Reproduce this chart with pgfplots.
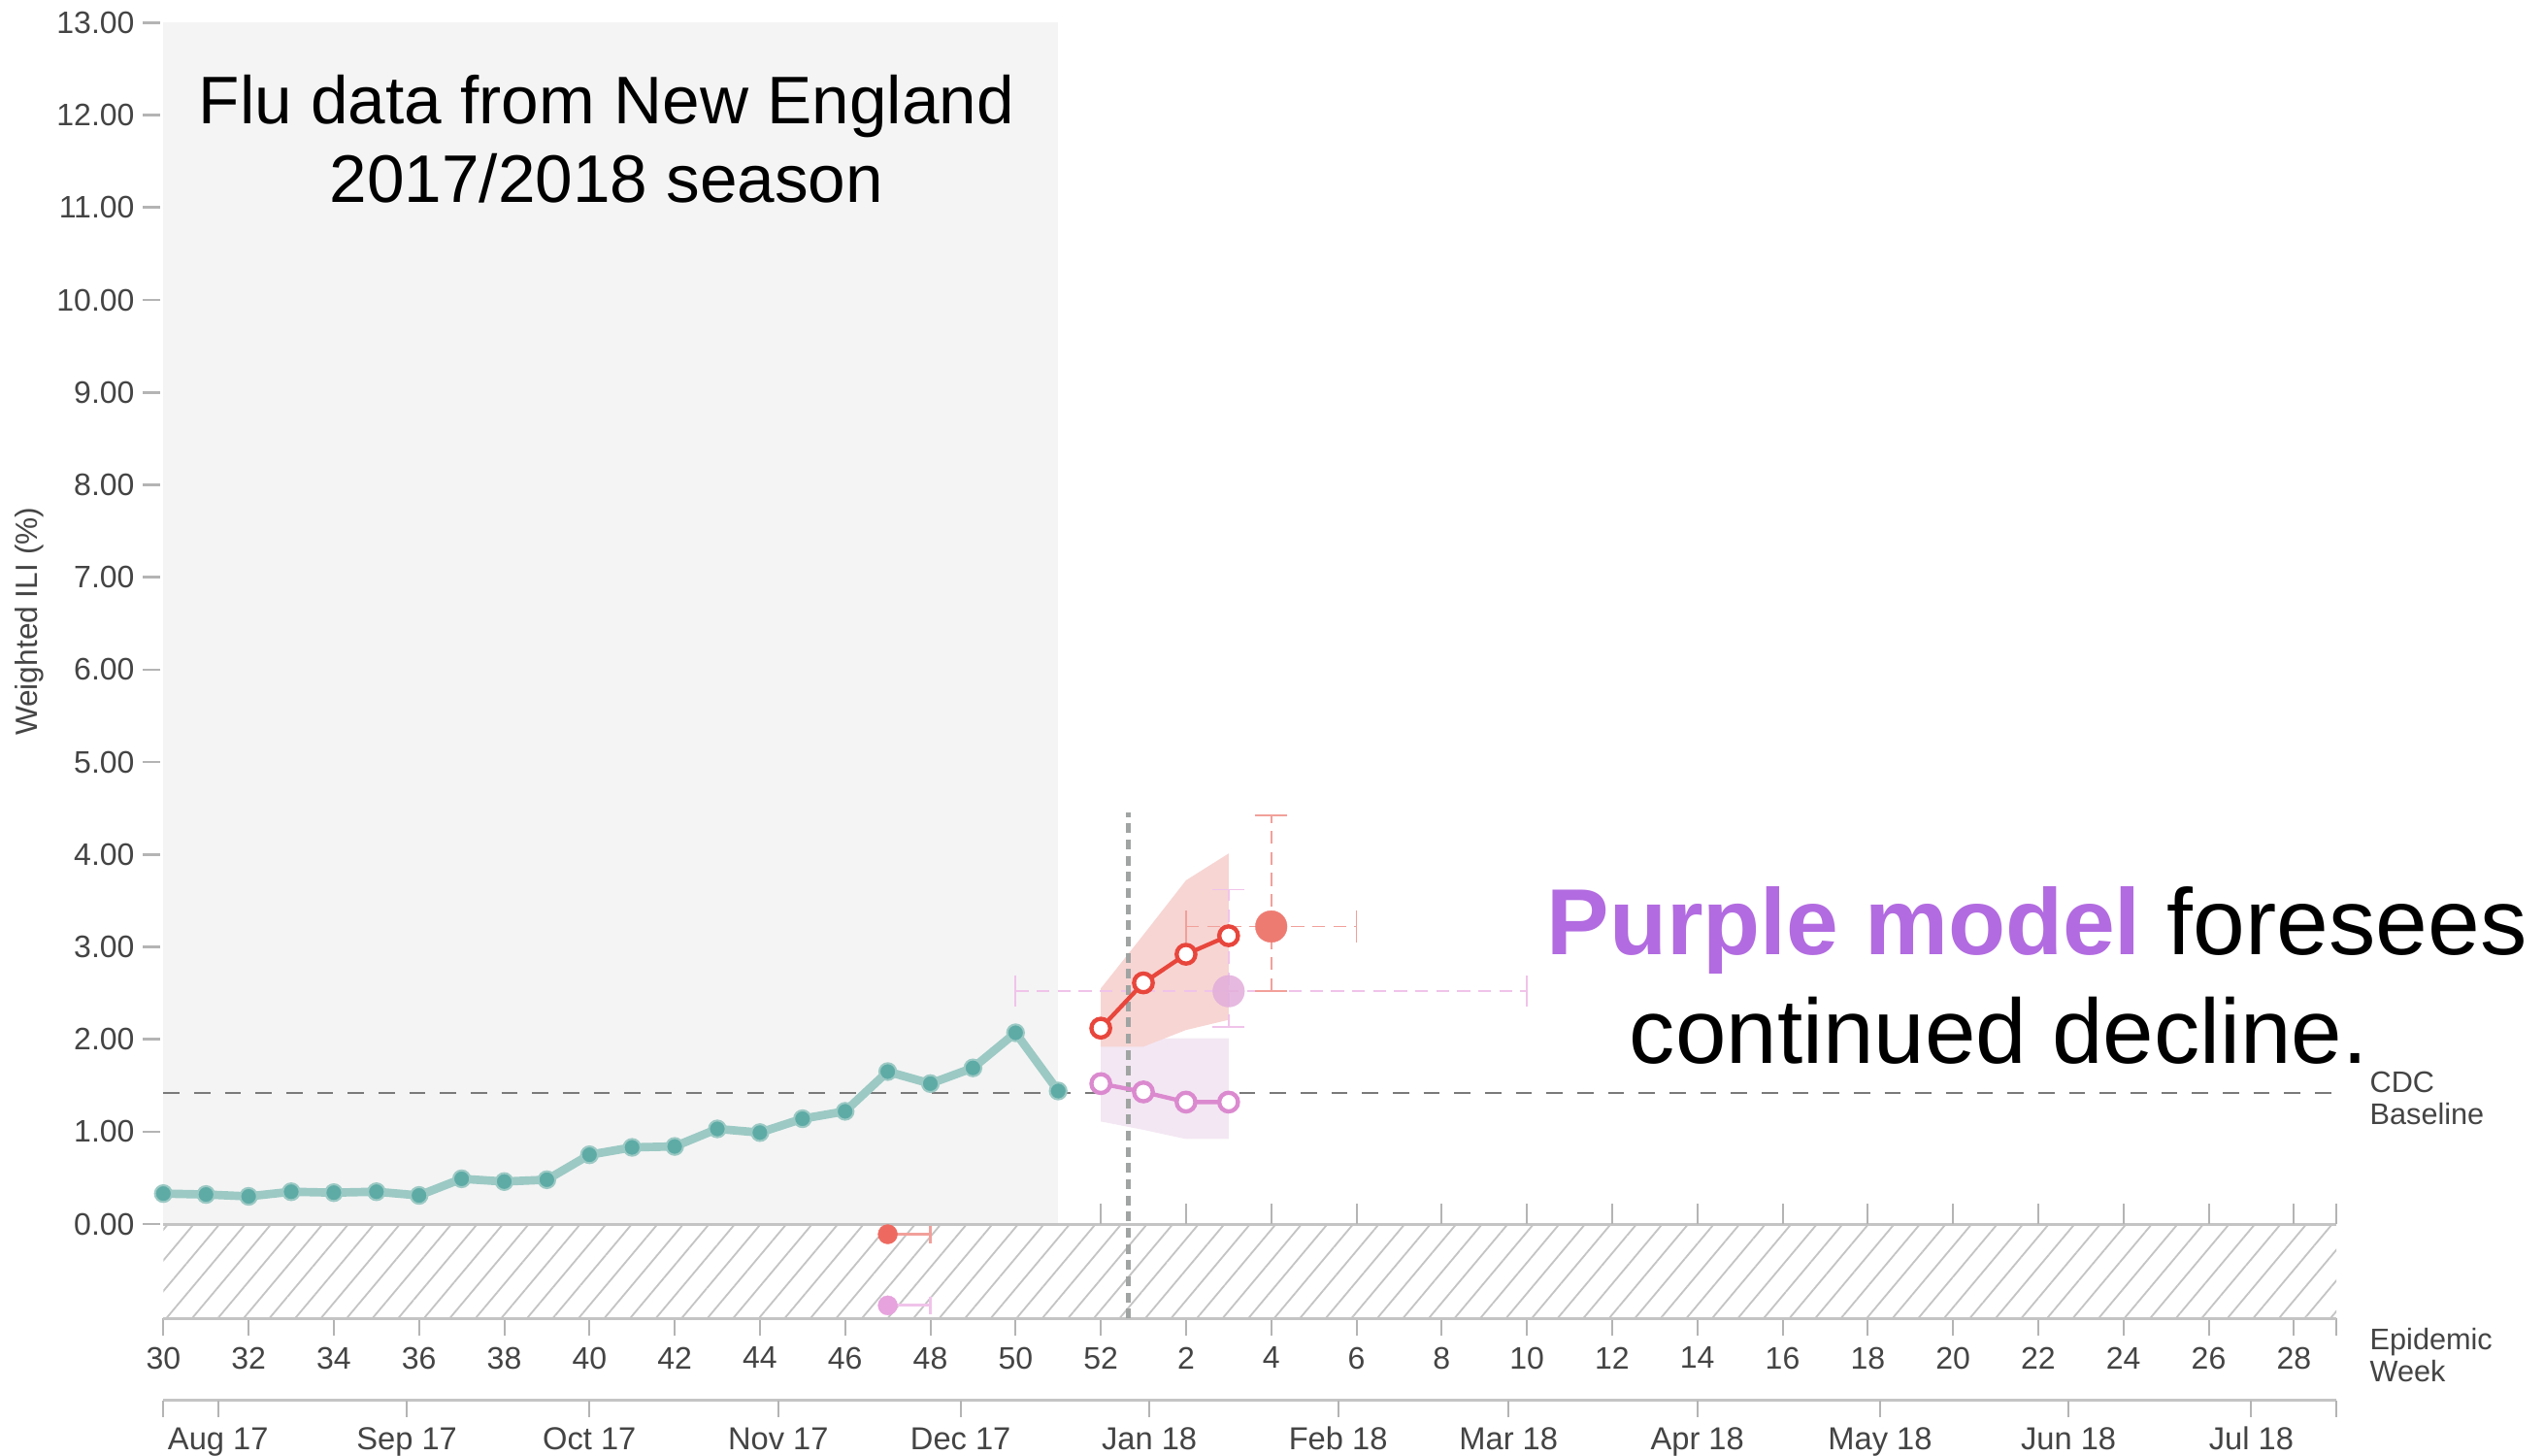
\documentclass[border=0pt]{standalone}
\usepackage{pgfplots}
\pgfplotsset{compat=1.18}
\usepackage{fontspec}
\setmainfont{Liberation Sans}
\usetikzlibrary{patterns.meta}

\definecolor{obsshade}{HTML}{F4F4F4}
\definecolor{hatchgray}{HTML}{C4C4C4}
\definecolor{axisgray}{HTML}{C4C4C4}
\definecolor{tickgray}{HTML}{B4B4B4}
\definecolor{labelgray}{HTML}{444444}
\definecolor{basegray}{HTML}{7A7A7A}
\definecolor{nowgray}{HTML}{A0A4A2}
\definecolor{tealline}{HTML}{9CC9C4}
\definecolor{tealmark}{HTML}{5EABA6}
\definecolor{redline}{HTML}{E8463C}
\definecolor{redband}{HTML}{F7D5D3}
\definecolor{redpeak}{HTML}{EE7B72}
\definecolor{rederr}{HTML}{F2A09A}
\definecolor{redonset}{HTML}{EE6A60}
\definecolor{purpline}{HTML}{DB8ACF}
\definecolor{purpband}{HTML}{F3E7F3}
\definecolor{purppeak}{HTML}{E2AEDB}
\definecolor{purperr}{HTML}{F0C3EA}
\definecolor{purponset}{HTML}{E6A3DD}
\definecolor{purptext}{HTML}{B26BE0}

\begin{document}
\begin{tikzpicture}
\begin{axis}[
  scale only axis,
  width=671.67pt, height=400.42pt,
  xmin=0, xmax=51, ymin=-1.02, ymax=13,
  clip=false,
  axis x line*=bottom, axis y line*=left,
  axis line style={draw=none},
  tick align=outside,
  major tick length=5.4pt,
  xtick={0,2,...,50,51},
  xticklabels={30,32,34,36,38,40,42,44,46,48,50,52,2,4,6,8,10,12,14,16,18,20,22,24,26,28,{}},
  ytick={0,1,...,13},
  yticklabel={\pgfmathprintnumber[fixed,fixed zerofill,precision=2]{\tick}},
  /pgf/number format/assume math mode=true,
  tick label style={font=\fontsize{9.6}{11}\selectfont, text=labelgray},
  xtick style={draw=tickgray, line width=0.6pt},
  ytick style={draw=tickgray, line width=0.8pt, xshift=-1pt},
]
% shaded observed region
\fill[obsshade] (axis cs:0,0) rectangle (axis cs:21,13);
% hatched band below zero
\fill[pattern={Lines[angle=50,distance=6.1pt,line width=0.55pt]}, pattern color=hatchgray]
  (axis cs:0,-1.02) rectangle (axis cs:51,0);
\draw[axisgray, line width=0.9pt] (axis cs:0,0) -- (axis cs:51,0);
\draw[axisgray, line width=0.9pt] (axis cs:0,-1.02) -- (axis cs:51,-1.02);
\pgfplotsinvokeforeach{22,24,...,50,51}{
  \draw[tickgray, line width=0.6pt] (axis cs:#1,0) -- ++(0pt,6.3pt);
}
% month axis
\draw[axisgray, line width=0.9pt] (axis cs:0,-1.909) -- (axis cs:51,-1.909);
\draw[tickgray, line width=0.6pt]
  (axis cs:0,-1.909) -- ++(0pt,-5.2pt)
  (axis cs:1.286,-1.909) -- ++(0pt,-5.2pt)
  (axis cs:5.714,-1.909) -- ++(0pt,-5.2pt)
  (axis cs:10,-1.909) -- ++(0pt,-5.2pt)
  (axis cs:14.43,-1.909) -- ++(0pt,-5.2pt)
  (axis cs:18.71,-1.909) -- ++(0pt,-5.2pt)
  (axis cs:23.14,-1.909) -- ++(0pt,-5.2pt)
  (axis cs:27.57,-1.909) -- ++(0pt,-5.2pt)
  (axis cs:31.57,-1.909) -- ++(0pt,-5.2pt)
  (axis cs:36,-1.909) -- ++(0pt,-5.2pt)
  (axis cs:40.29,-1.909) -- ++(0pt,-5.2pt)
  (axis cs:44.71,-1.909) -- ++(0pt,-5.2pt)
  (axis cs:49,-1.909) -- ++(0pt,-5.2pt)
  (axis cs:51,-1.909) -- ++(0pt,-5.2pt);
\begin{scope}[every node/.style={anchor=base, inner sep=0pt, font=\fontsize{9.8}{11}\selectfont, text=labelgray}]
\node at (axis cs:1.286,-2.437) {Aug 17};
\node at (axis cs:5.714,-2.437) {Sep 17};
\node at (axis cs:10,-2.437) {Oct 17};
\node at (axis cs:14.43,-2.437) {Nov 17};
\node at (axis cs:18.71,-2.437) {Dec 17};
\node at (axis cs:23.14,-2.437) {Jan 18};
\node at (axis cs:27.57,-2.437) {Feb 18};
\node at (axis cs:31.57,-2.437) {Mar 18};
\node at (axis cs:36,-2.437) {Apr 18};
\node at (axis cs:40.29,-2.437) {May 18};
\node at (axis cs:44.71,-2.437) {Jun 18};
\node at (axis cs:49,-2.437) {Jul 18};
\end{scope}

% CDC baseline
\addplot[basegray, line width=0.8pt, dash pattern=on 5pt off 4.5pt] coordinates {(0,1.42) (51,1.42)};

% forecast bands
\addplot[fill=purpband, draw=none] coordinates {(22,2.01) (23,2.01) (24,2.01) (25,2.01) (25,0.92) (24,0.92) (23,1.02) (22,1.11)} -- cycle;
\addplot[fill=redband, draw=none] coordinates {(22,2.55) (23,3.13) (24,3.72) (25,4.01) (25,2.21) (24,2.10) (23,1.92) (22,1.92)} -- cycle;

% peak error bars
\addplot[purperr, line width=0.5pt, dash pattern=on 4pt off 2.5pt, mark=|, mark size=4.9pt, mark options={solid}] coordinates {(20,2.52) (32,2.52)};
\addplot[purperr, line width=0.5pt, dash pattern=on 4pt off 2.5pt, mark=-, mark size=5pt, mark options={solid}] coordinates {(25,2.13) (25,3.62)};
\addplot[rederr, line width=0.5pt, dash pattern=on 4pt off 2.5pt, mark=|, mark size=5pt, mark options={solid}] coordinates {(24,3.22) (28,3.22)};
\addplot[rederr, line width=0.5pt, dash pattern=on 4pt off 2.5pt, mark=-, mark size=5pt, mark options={solid}] coordinates {(26,2.52) (26,4.42)};

% "now" line
\addplot[nowgray, line width=1.4pt, dash pattern=on 3pt off 2pt] coordinates {(22.65,-1.02) (22.65,4.45)};

% observed data
\addplot[tealline, line width=2.6pt, mark=*, mark size=2.6pt, mark options={fill=tealmark, draw=tealline, line width=0.6pt}] coordinates {
(0,0.33) (1,0.32) (2,0.30) (3,0.35) (4,0.34) (5,0.35) (6,0.31) (7,0.49) (8,0.46) (9,0.48)
(10,0.75) (11,0.83) (12,0.84) (13,1.03) (14,0.99) (15,1.14) (16,1.22) (17,1.65) (18,1.52)
(19,1.69) (20,2.07) (21,1.44)};

% forecasts
\addplot[purpline, line width=1.3pt, mark=*, mark size=2.9pt, mark options={fill=white, draw=purpline, line width=1.3pt}] coordinates {(22,1.52) (23,1.43) (24,1.32) (25,1.32)};
\addplot[redline, line width=1.3pt, mark=*, mark size=2.9pt, mark options={fill=white, draw=redline, line width=1.3pt}] coordinates {(22,2.12) (23,2.61) (24,2.92) (25,3.12)};

% peaks
\addplot[only marks, mark=*, mark size=4.9pt, mark options={fill=purppeak, draw=purppeak, line width=0.1pt, opacity=0.85}] coordinates {(25,2.52)};
\addplot[only marks, mark=*, mark size=4.9pt, mark options={fill=redpeak, draw=redpeak, line width=0.1pt}] coordinates {(26,3.22)};

% onsets
\addplot[rederr, line width=0.9pt, mark=|, mark size=2.7pt, mark indices={2}] coordinates {(17,-0.11) (18,-0.11)};
\addplot[only marks, mark=*, mark size=3pt, mark options={fill=redonset, draw=redonset, line width=0.1pt}] coordinates {(17,-0.11)};
\addplot[purperr, line width=0.9pt, mark=|, mark size=2.7pt, mark indices={2}] coordinates {(17,-0.88) (18,-0.88)};
\addplot[only marks, mark=*, mark size=3pt, mark options={fill=purponset, draw=purponset, line width=0.1pt}] coordinates {(17,-0.88)};

% labels
\node[rotate=90, font=\fontsize{9.5}{11}\selectfont, text=labelgray] at (axis cs:-3.15,6.52) {Weighted ILI (\%)};
\begin{scope}[every node/.style={anchor=base west, inner sep=0pt, font=\fontsize{9.2}{11}\selectfont, text=labelgray}]
\node at (axis cs:51.77,1.429) {CDC};
\node at (axis cs:51.77,1.082) {Baseline};
\node at (axis cs:51.77,-1.355) {Epidemic};
\node at (axis cs:51.77,-1.702) {Week};
\end{scope}

\node[anchor=base, inner sep=0pt, font=\fontsize{20.8}{25}\selectfont] at (axis cs:10.40,11.91) {Flu data from New England};
\node[anchor=base, inner sep=0pt, font=\fontsize{20.8}{25}\selectfont] at (axis cs:10.40,11.06) {2017/2018 season};

\node[anchor=base west, inner sep=0pt, font=\fontsize{29}{35}\selectfont] at (axis cs:32.45,2.92) {\textcolor{purptext}{\bfseries Purple model} foresees};
\node[anchor=base east, inner sep=0pt, font=\fontsize{28.3}{35}\selectfont] at (axis cs:51.75,1.74) {continued decline.};

\coordinate (bbBL) at (axis cs:-3.834,-2.50);
\coordinate (bbTR) at (axis cs:55.87,13.246);
\end{axis}
\pgfresetboundingbox
\path[use as bounding box] (bbBL) rectangle (bbTR);
\end{tikzpicture}
\end{document}
